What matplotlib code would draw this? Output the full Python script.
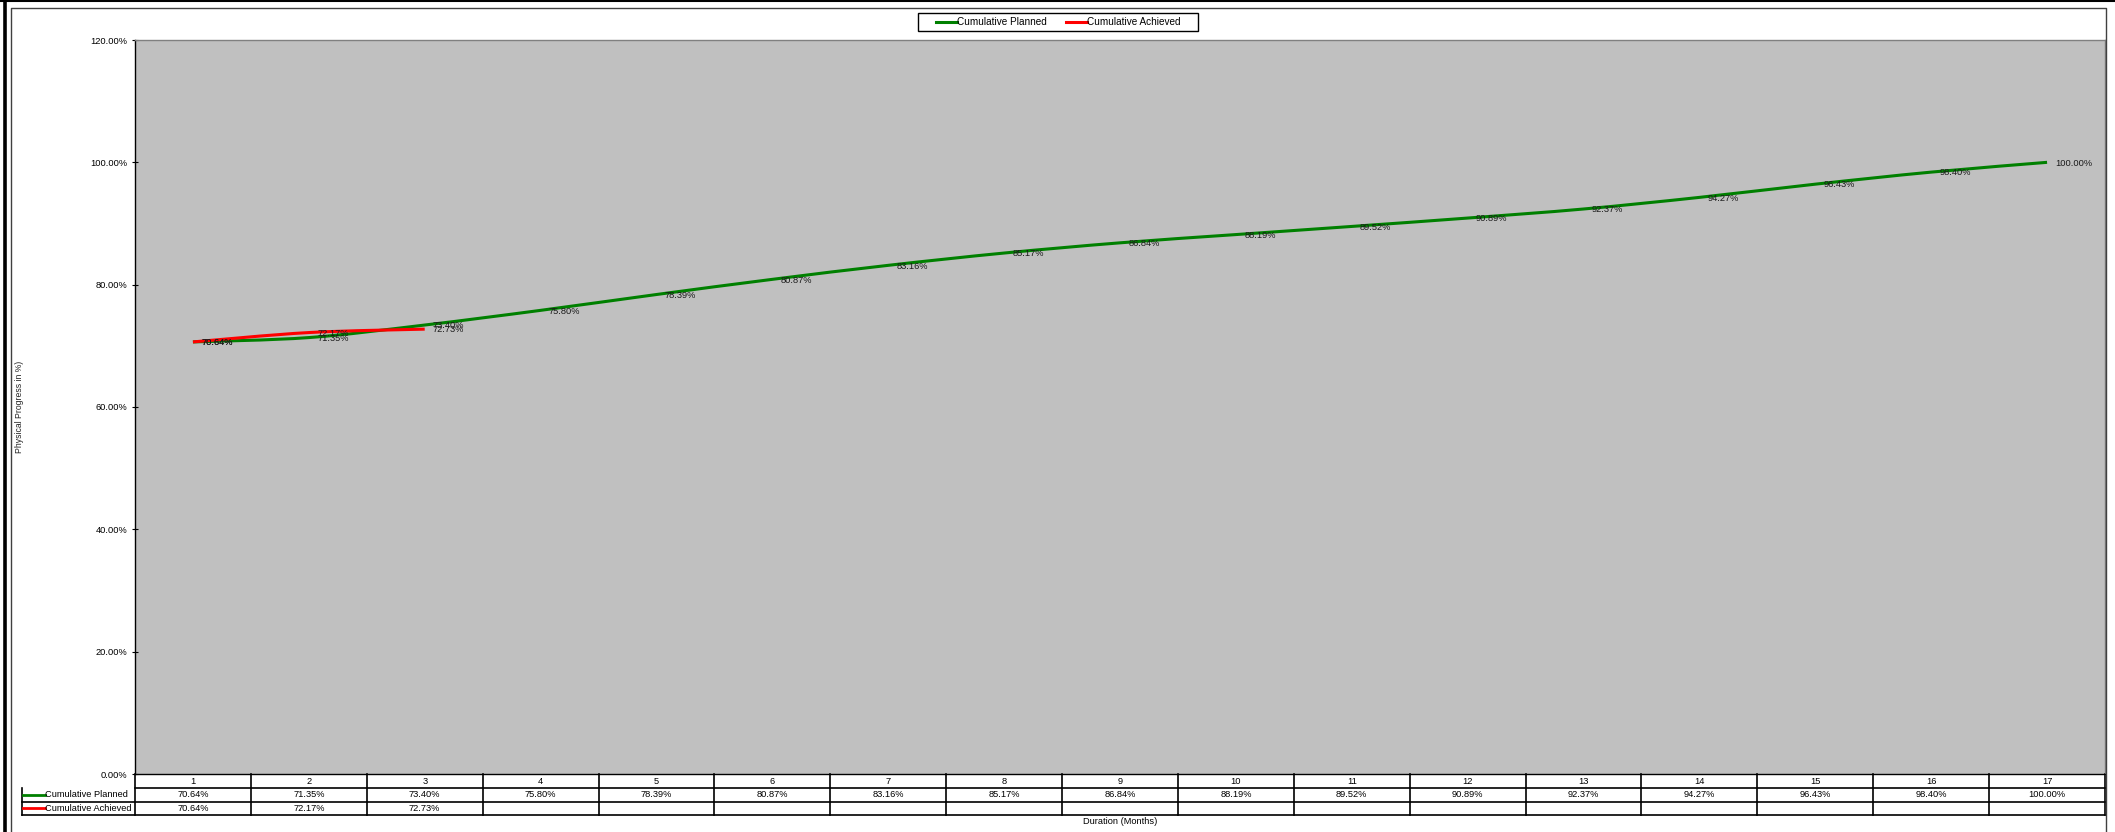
import matplotlib
matplotlib.use("Agg")
import matplotlib.pyplot as plt
import matplotlib.transforms as mtransforms
from matplotlib.path import Path
from matplotlib.patches import PathPatch, Rectangle
from matplotlib.lines import Line2D

plt.rcParams["font.family"] = ["Liberation Sans", "DejaVu Sans"]

# ---------- данные ----------
months   = list(range(1, 18))
planned  = [70.64, 71.35, 73.40, 75.80, 78.39, 80.87, 83.16, 85.17, 86.84,
            88.19, 89.52, 90.89, 92.37, 94.27, 96.43, 98.40, 100.00]
achieved = [70.64, 72.17, 72.73]
series   = [("Cumulative Planned", planned, "#008000"),
            ("Cumulative Achieved", achieved, "#FF0000")]

W, H = 2115, 832
FS = 6.7

def box(x0, y0, x1, y1):
    return [x0 / W, 1 - y1 / H, (x1 - x0) / W, (y1 - y0) / H]

def fy(y):
    return 1 - y / H

def fx(x):
    return x / W

def smooth_path(xs, ys):
    # сглаженная линия как в Excel (Catmull-Rom -> Bezier)
    pts = list(zip(xs, ys))
    verts, codes = [pts[0]], [Path.MOVETO]
    for i in range(len(pts) - 1):
        p0 = pts[max(i - 1, 0)]; p1 = pts[i]
        p2 = pts[i + 1]; p3 = pts[min(i + 2, len(pts) - 1)]
        c1 = (p1[0] + (p2[0] - p0[0]) / 6, p1[1] + (p2[1] - p0[1]) / 6)
        c2 = (p2[0] - (p3[0] - p1[0]) / 6, p2[1] - (p3[1] - p1[1]) / 6)
        verts += [c1, c2, p2]; codes += [Path.CURVE4] * 3
    return Path(verts, codes)

fig = plt.figure(figsize=(W / 100, H / 100), dpi=100)

ax = fig.add_axes(box(135, 40, 2105, 774))
ax.set_facecolor("#C0C0C0")
ax.set_xlim(0.5, len(months) + 0.5)
ax.set_ylim(0, 120)
ax.set_xticks([])
ax.set_yticks(range(0, 121, 20))
ax.set_yticklabels([f"{v:.2f}%" for v in range(0, 121, 20)])
ax.tick_params(axis="y", direction="inout", length=5, width=0.8, pad=3,
               labelsize=FS)
for s in ("left", "bottom"):
    ax.spines[s].set_color("black"); ax.spines[s].set_linewidth(1)
for s in ("top", "right"):
    ax.spines[s].set_color("#808080"); ax.spines[s].set_linewidth(1)

for name, vals, col in series:
    xs = months[:len(vals)]
    ax.add_patch(PathPatch(smooth_path(xs, vals), fill=False, edgecolor=col,
                           lw=2.2, capstyle="butt", zorder=3))
    for x, v in zip(xs, vals):
        ax.annotate(f"{v:.2f}%", (x, v), xytext=(6, -0.5),
                    textcoords="offset points", ha="left", va="center",
                    fontsize=FS, color="#1a1a1a", zorder=4)

# ---------- легенда ----------
fig.add_artist(Rectangle((fx(918), fy(31)), fx(280), 18 / H, fill=False,
                         edgecolor="black", lw=1))
for (name, vals, col), x0 in zip(series, (936, 1066)):
    fig.add_artist(Line2D([fx(x0), fx(x0 + 21)], [fy(22)] * 2, color=col,
                          lw=2.2))
    fig.text(fx(x0 + 21), fy(22), name, ha="left", va="center", fontsize=7.2)

# ---------- таблица данных ----------
tr = mtransforms.blended_transform_factory(ax.transData, fig.transFigure)
rows_y = [774, 787.5, 801.5, 815]
lc = "black"
fig.add_artist(Line2D([fx(135), fx(2105)], [fy(787.5)] * 2, color=lc, lw=1.2))
for y in rows_y[2:]:
    fig.add_artist(Line2D([fx(22), fx(2105)], [fy(y)] * 2, color=lc, lw=1.2))
fig.add_artist(Line2D([fx(22)] * 2, [fy(787.5), fy(815)], color=lc, lw=1.2))
for k in range(len(months) + 1):
    ax.add_line(Line2D([k + 0.5] * 2, [fy(774), fy(815)], transform=tr,
                       color=lc, lw=1.2, clip_on=False))

for m in months:
    ax.text(m, fy(781), str(m), transform=tr, ha="center", va="center",
            fontsize=FS)
for r, (name, vals, col) in enumerate(series):
    yc = (rows_y[r + 1] + rows_y[r + 2]) / 2
    for m, v in zip(months, vals):
        ax.text(m, fy(yc), f"{v:.2f}%", transform=tr, ha="center",
                va="center", fontsize=FS)
    fig.add_artist(Line2D([fx(23), fx(45)], [fy(yc)] * 2, color=col, lw=2))
    fig.text(fx(45), fy(yc), name, ha="left", va="center", fontsize=FS)

fig.text(fx(1120), fy(822), "Duration (Months)", ha="center", va="center",
         fontsize=FS)
fig.text(fx(20), fy(407), "Physical Progress in %)", ha="center",
         va="center", rotation=90, fontsize=6.2, color="#222222")

# ---------- рамка ----------
fig.add_artist(Line2D([fx(4.5)] * 2, [0, 1], color="black", lw=2.6))
fig.add_artist(Line2D([0, 1], [fy(1)] * 2, color="black", lw=1.5))
fig.add_artist(Line2D([fx(11), fx(11), fx(2106), fx(2106)],
                      [0, fy(8), fy(8), 0], color="#404040", lw=1))

fig.savefig("out.png", dpi=100)
